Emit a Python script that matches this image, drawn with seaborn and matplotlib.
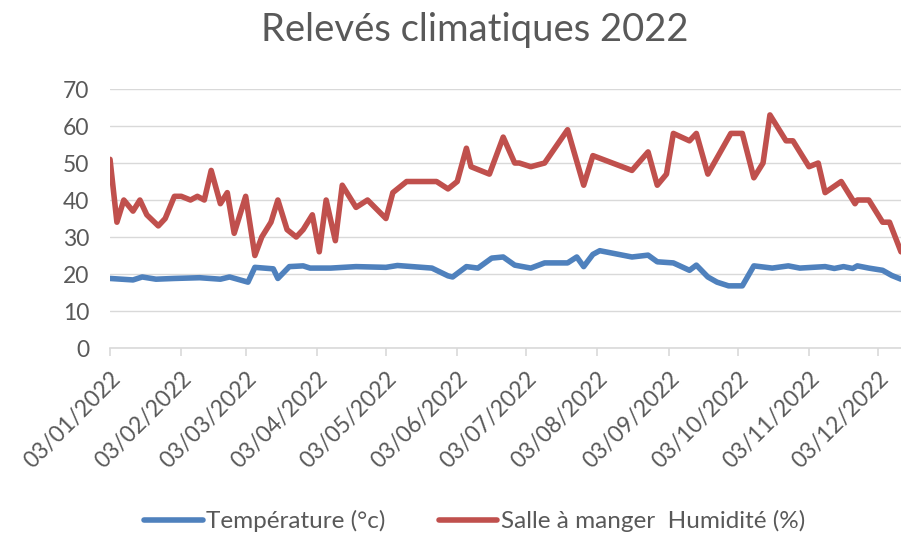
import pandas as pd
import numpy as np
import seaborn as sns
import matplotlib
matplotlib.use("Agg")
from matplotlib import pyplot as plt
import matplotlib.dates as mdates

# Humidité salle à manger (%)
dates_hum = ["2022-01-03", "2022-01-06", "2022-01-09", "2022-01-13", "2022-01-16", "2022-01-19",
             "2022-01-24", "2022-01-27", "2022-01-31", "2022-02-03", "2022-02-07", "2022-02-10",
             "2022-02-13", "2022-02-16", "2022-02-20", "2022-02-23", "2022-02-26", "2022-03-03",
             "2022-03-07", "2022-03-10", "2022-03-14", "2022-03-17", "2022-03-21", "2022-03-25",
             "2022-03-28", "2022-04-01", "2022-04-04", "2022-04-07", "2022-04-11", "2022-04-14",
             "2022-04-20", "2022-04-25", "2022-05-03", "2022-05-06", "2022-05-12", "2022-05-25",
             "2022-05-30", "2022-06-03", "2022-06-07", "2022-06-09", "2022-06-17", "2022-06-23",
             "2022-06-28", "2022-06-30", "2022-07-05", "2022-07-11", "2022-07-21", "2022-07-28",
             "2022-08-01", "2022-08-18", "2022-08-25", "2022-08-29", "2022-09-02", "2022-09-05",
             "2022-09-12", "2022-09-15", "2022-09-20", "2022-09-30", "2022-10-05", "2022-10-10",
             "2022-10-14", "2022-10-17", "2022-10-24", "2022-10-27", "2022-11-03", "2022-11-07",
             "2022-11-10", "2022-11-17", "2022-11-23", "2022-11-24", "2022-11-29", "2022-12-05",
             "2022-12-08", "2022-12-13"]
humidite = [51, 34, 40, 37, 40, 36,
            33, 35, 41, 41, 40, 41,
            40, 48, 39, 42, 31, 41,
            25, 30, 34, 40, 32, 30,
            32, 36, 26, 40, 29, 44,
            38, 40, 35, 42, 45, 45,
            43, 45, 54, 49, 47, 57,
            50, 50, 49, 50, 59, 44,
            52, 48, 53, 44, 47, 58,
            56, 58, 47, 58, 58, 46,
            50, 63, 56, 56, 49, 50,
            42, 45, 39, 40, 40, 34,
            34, 26]

# Température (°c)
dates_temp = ["2022-01-03", "2022-01-13", "2022-01-17", "2022-01-23", "2022-01-31", "2022-02-11",
              "2022-02-20", "2022-02-24", "2022-03-04", "2022-03-07", "2022-03-15", "2022-03-17",
              "2022-03-22", "2022-03-28", "2022-03-31", "2022-04-09", "2022-04-20", "2022-05-03",
              "2022-05-08", "2022-05-23", "2022-05-30", "2022-06-01", "2022-06-07", "2022-06-12",
              "2022-06-18", "2022-06-23", "2022-06-28", "2022-07-05", "2022-07-11", "2022-07-21",
              "2022-07-25", "2022-07-28", "2022-08-01", "2022-08-04", "2022-08-18", "2022-08-25",
              "2022-08-29", "2022-09-05", "2022-09-12", "2022-09-15", "2022-09-20", "2022-09-24",
              "2022-09-29", "2022-10-05", "2022-10-10", "2022-10-18", "2022-10-25", "2022-10-30",
              "2022-11-10", "2022-11-14", "2022-11-18", "2022-11-22", "2022-11-24", "2022-11-29",
              "2022-12-05", "2022-12-09", "2022-12-13"]
temperature = [18.8, 18.4, 19.2, 18.6, 18.8, 19.0,
               18.6, 19.2, 17.8, 21.8, 21.4, 18.8,
               22.0, 22.2, 21.6, 21.6, 22.0, 21.8,
               22.3, 21.6, 19.5, 19.2, 22.0, 21.6,
               24.3, 24.6, 22.4, 21.6, 23.0, 23.0,
               24.6, 22.0, 25.3, 26.3, 24.6, 25.1,
               23.3, 23.0, 21.0, 22.4, 19.2, 17.8,
               16.8, 16.8, 22.2, 21.6, 22.2, 21.6,
               22.0, 21.5, 22.0, 21.5, 22.2, 21.6,
               21.0, 19.6, 18.6]

df_hum = pd.DataFrame({"Date": pd.to_datetime(dates_hum), "Valeur": humidite})
df_temp = pd.DataFrame({"Date": pd.to_datetime(dates_temp), "Valeur": temperature})

sns.set_theme(style="white")
plt.rcParams["font.family"] = ["Lato", "DejaVu Sans"]
gris = "#595959"

fig = plt.figure(figsize=(9.01, 5.34), dpi=100)
ax = fig.add_axes([0.1221, 0.3483, 0.8779, 0.4850])

sns.lineplot(data=df_temp, x="Date", y="Valeur", ax=ax, color="#4F81BD", lw=4,
             label="Température (°c)", solid_capstyle="round")
sns.lineplot(data=df_hum, x="Date", y="Valeur", ax=ax, color="#C0504D", lw=4,
             label="Salle à manger  Humidité (%)", solid_capstyle="round")

ax.set_ylim(0, 70)
ax.set_yticks(range(0, 71, 10))
ax.set_xlim(pd.Timestamp("2022-01-03"), pd.Timestamp("2022-12-13"))
ax.xaxis.set_major_locator(mdates.MonthLocator(bymonthday=3))
ax.xaxis.set_major_formatter(mdates.DateFormatter("%d/%m/%Y"))
ax.set_xlabel("")
ax.set_ylabel("")

ax.grid(axis="y", color="#D9D9D9", lw=1)
ax.set_axisbelow(True)
for s in ["top", "right", "left"]:
    ax.spines[s].set_visible(False)
ax.spines["bottom"].set_color("#D9D9D9")
ax.spines["bottom"].set_linewidth(1.2)
ax.tick_params(axis="x", bottom=True, length=6, width=1.2, color="#D9D9D9",
               labelsize=16.5, labelcolor=gris, pad=8)
ax.tick_params(axis="y", left=False, labelsize=16.5, labelcolor=gris, pad=9)
for lab in ax.get_xticklabels():
    lab.set_rotation(45)
    lab.set_ha("right")
    lab.set_rotation_mode("anchor")

ax.get_legend().remove()
handles, labels = ax.get_legend_handles_labels()
fig.legend(handles, labels, loc="center", bbox_to_anchor=(0.527, 0.024), ncol=2,
           frameon=False, fontsize=17.5, labelcolor=gris, handlelength=2.4,
           handletextpad=0.15, columnspacing=2.2)

fig.suptitle("Relevés climatiques 2022", x=0.527, y=0.978, fontsize=27.5, color=gris)

fig.savefig("out.png", dpi=100)
